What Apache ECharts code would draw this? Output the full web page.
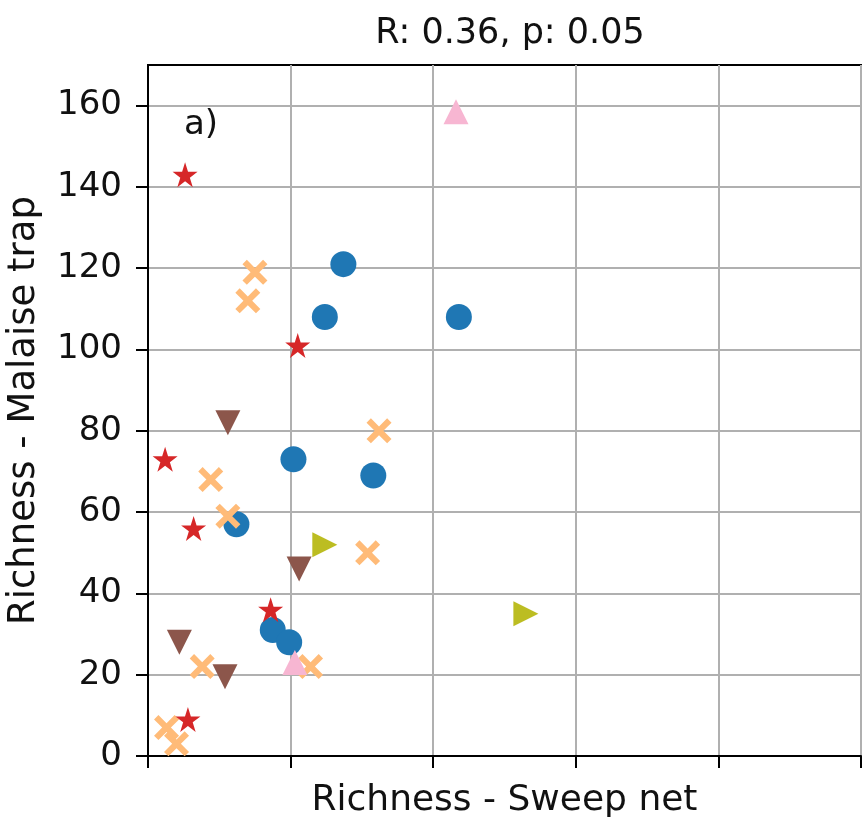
<!DOCTYPE html>
<html>
<head>
<meta charset="utf-8">
<script src="https://cdn.jsdelivr.net/npm/echarts@6/dist/echarts.min.js"></script>
<style>
  html, body { margin: 0; padding: 0; background: #fff; }
  #chart { width: 863px; height: 818px; }
</style>
</head>
<body>
<div id="chart"></div>
<script>
/* values; x has no tick labels so it uses a 0-50 scale */
const Y_TICKS = [0, 20, 40, 60, 80, 100, 120, 140, 160]

const blueX = [13.7, 12.4, 21.8, 10.2, 15.8, 6.2, 8.75, 9.9]
const blueY = [121, 108, 108, 73, 69, 57, 31, 28]

const orangeX = [7.5, 7.0, 16.2, 4.4, 5.6, 15.4, 3.8, 11.4, 1.3, 2.0]
const orangeY = [119, 112, 80, 68, 59, 50, 22, 22, 7, 3]

const redX = [2.6, 10.5, 1.2, 3.2, 8.6, 2.8]
const redY = [143, 101, 73, 56, 36, 9]

const brownX = [5.6, 10.6, 2.2, 5.4]
const brownY = [82, 46, 28, 19.5]

const pinkX = [21.6, 10.3]
const pinkY = [158.5, 23]

const oliveX = [12.4, 26.5]
const oliveY = [52, 35]

const STAR = 'path://M50,0 L61.2,34.5 L97.6,34.5 L68.2,55.9 L79.4,90.5 L50,69.1 L20.6,90.5 L31.8,55.9 L2.4,34.5 L38.8,34.5 Z'
const CROSS = 'path://M0,3.5 L3.5,0 L10,6.5 L16.5,0 L20,3.5 L13.5,10 L20,16.5 L16.5,20 L10,13.5 L3.5,20 L0,16.5 L6.5,10 Z'

const FONT = 'DejaVu Sans'
const pts = (xs, ys) => xs.map((x, i) => [x, ys[i]])

function scatter (name, xs, ys, color, symbol, size, rotate) {
  return {
    name, type: 'scatter',
    data: pts(xs, ys),
    symbol, symbolSize: size, symbolRotate: rotate || 0,
    itemStyle: { color, opacity: 1 },
    emphasis: { disabled: true }
  }
}

const chart = echarts.init(document.getElementById('chart'))
chart.setOption({
  animation: false,
  title: {
    text: 'R: 0.36, p: 0.05',
    left: 505, top: 11, textAlign: 'center',
    textStyle: { fontFamily: FONT, fontSize: 35, fontWeight: 'normal', color: '#111' }
  },
  grid: {
    left: 148, right: 2, top: 65, bottom: 62,
    outerBoundsMode: 'none', containLabel: false,
    show: true, borderColor: '#000', borderWidth: 2, backgroundColor: '#fff'
  },
  xAxis: {
    type: 'value', min: 0, max: 50, interval: 10,
    name: 'Richness - Sweep net', nameLocation: 'middle', nameGap: 27,
    nameTextStyle: { fontFamily: FONT, fontSize: 36, color: '#111' },
    axisLine: { show: true, lineStyle: { color: '#000', width: 2 } },
    axisTick: { show: true, length: 12, lineStyle: { color: '#000', width: 2 } },
    axisLabel: { show: false },
    splitLine: { show: true, lineStyle: { color: '#b0b0b0', width: 2 } }
  },
  yAxis: {
    type: 'value', min: 0, max: 170, interval: 20,
    name: 'Richness - Malaise trap', nameLocation: 'middle', nameGap: 105,
    nameTextStyle: { fontFamily: FONT, fontSize: 37, color: '#111' },
    axisLine: { show: true, lineStyle: { color: '#000', width: 2 } },
    axisTick: { show: true, length: 12, customValues: Y_TICKS, lineStyle: { color: '#000', width: 2 } },
    axisLabel: { customValues: Y_TICKS, fontFamily: FONT, fontSize: 34, color: '#111', margin: 26 },
    splitLine: { show: true, lineStyle: { color: '#b0b0b0', width: 2 } }
  },
  graphic: [{
    type: 'text', left: 184, top: 108,
    style: { text: 'a)', fontFamily: FONT, fontSize: 34, fill: '#111' }
  }],
  series: [
    scatter('blue', blueX, blueY, '#1f77b4', 'circle', 26),
    scatter('orange', orangeX, orangeY, '#ffbb78', CROSS, 25),
    scatter('red', redX, redY, '#d62728', STAR, 25),
    scatter('brown', brownX, brownY, '#8c564b', 'triangle', 25, 180),
    scatter('pink', pinkX, pinkY, '#f7b6d2', 'triangle', 25),
    scatter('olive', oliveX, oliveY, '#bcbd22', 'triangle', 25, -90)
  ]
})
</script>
</body>
</html>
